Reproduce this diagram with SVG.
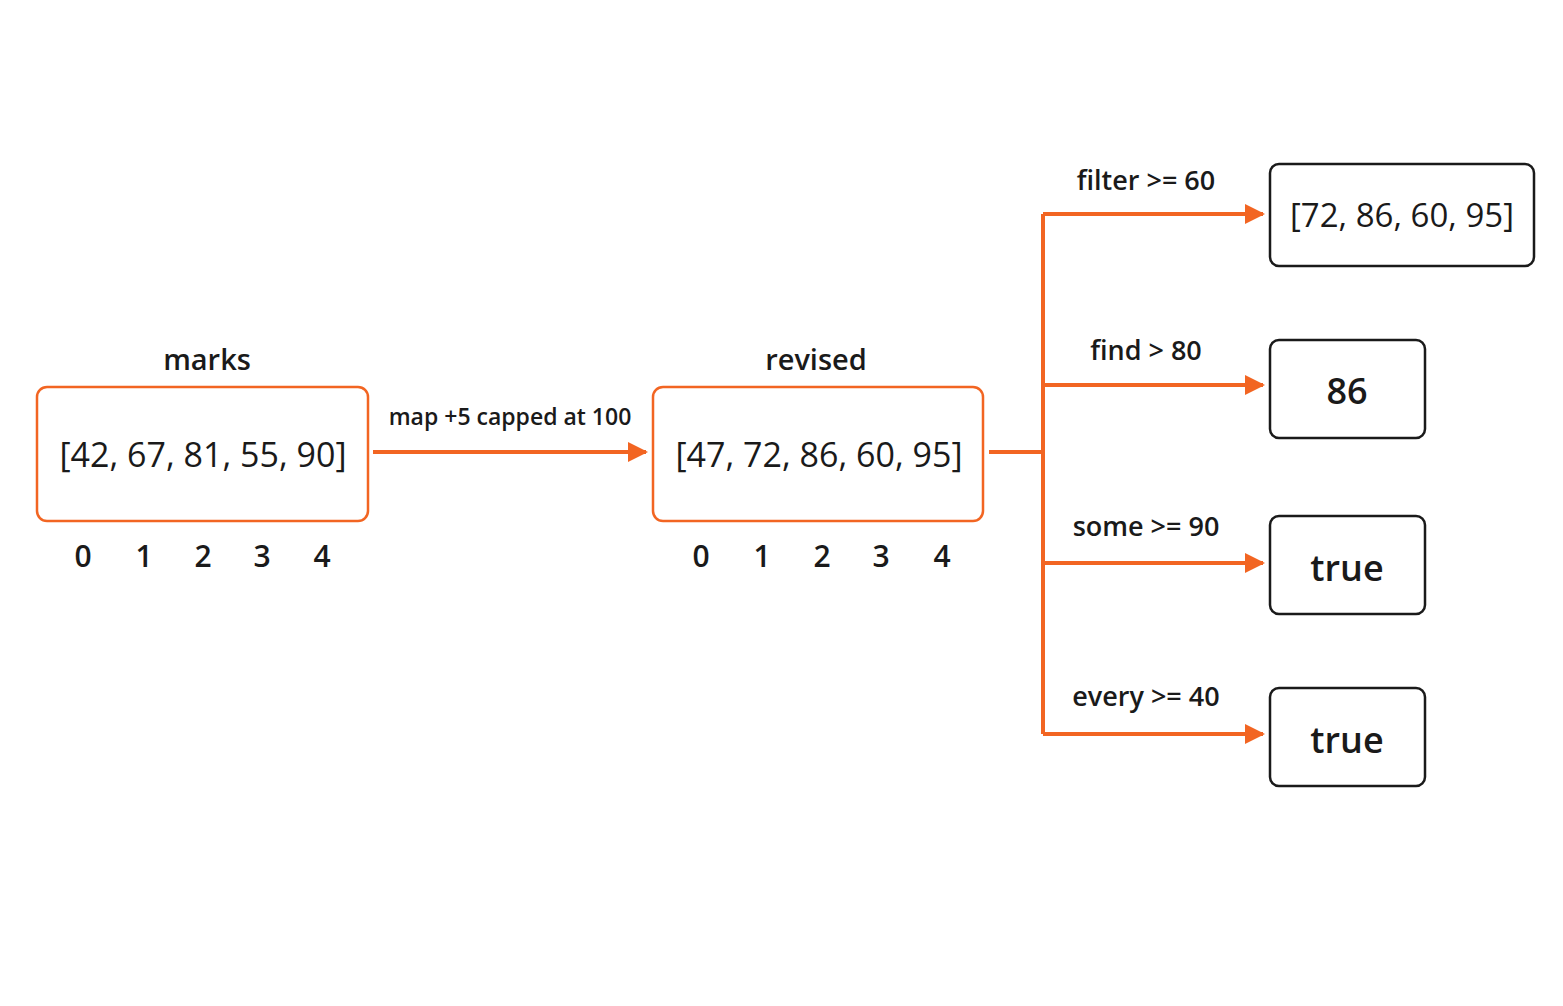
<svg xmlns="http://www.w3.org/2000/svg" width="1563" height="1006" viewBox="0 0 1563 1006">
<defs>
<style>
text{font-family:"Open Sans","Liberation Sans",sans-serif;fill:#1a1a1a;text-anchor:middle}
.t{font-size:29px;font-weight:600}
.a{font-size:34px}
.i{font-size:30px;font-weight:600}
.l{font-size:27px;font-weight:600}
.r{font-size:36px;font-weight:600}
.ob{fill:#fff;stroke:#f26522;stroke-width:2.5}
.bb{fill:#fff;stroke:#1a1a1a;stroke-width:2.5}
.c{fill:none;stroke:#f26522;stroke-width:4}
</style>
<marker id="ah" viewBox="0 0 10 10" refX="9" refY="5" markerWidth="5" markerHeight="5" orient="auto" markerUnits="strokeWidth"><path d="M0,0L10,5L0,10z" fill="#f26522"/></marker>
</defs>
<rect width="1563" height="1006" fill="#fff"/>
<g id="connectors">
<line class="c" x1="373" y1="452" x2="646" y2="452" marker-end="url(#ah)"/>
<text class="l" x="510" y="425" style="font-size:23px">map +5 capped at 100</text>
<path class="c" d="M989,452H1043M1043,214V734"/>
<line class="c" x1="1043" y1="214" x2="1263" y2="214" marker-end="url(#ah)"/>
<line class="c" x1="1043" y1="385" x2="1263" y2="385" marker-end="url(#ah)"/>
<line class="c" x1="1043" y1="563" x2="1263" y2="563" marker-end="url(#ah)"/>
<line class="c" x1="1043" y1="734" x2="1263" y2="734" marker-end="url(#ah)"/>
<text class="l" x="1146" y="190">filter &gt;= 60</text>
<text class="l" x="1146" y="360">find &gt; 80</text>
<text class="l" x="1146" y="536">some &gt;= 90</text>
<text class="l" x="1146" y="706">every &gt;= 40</text>
</g>
<g id="marks">
<text class="t" x="207" y="370">marks</text>
<rect class="ob" x="37" y="387" width="331" height="134" rx="10"/>
<text class="a" x="203" y="467">[42, 67, 81, 55, 90]</text>
<text class="i" x="83" y="567">0</text><text class="i" x="144" y="567">1</text><text class="i" x="203" y="567">2</text><text class="i" x="262" y="567">3</text><text class="i" x="322" y="567">4</text>
</g>
<g id="revised">
<text class="t" x="816" y="370">revised</text>
<rect class="ob" x="653" y="387" width="330" height="134" rx="10"/>
<text class="a" x="819" y="467">[47, 72, 86, 60, 95]</text>
<text class="i" x="701" y="567">0</text><text class="i" x="762" y="567">1</text><text class="i" x="822" y="567">2</text><text class="i" x="881" y="567">3</text><text class="i" x="942" y="567">4</text>
</g>
<g id="filter"><rect class="bb" x="1270" y="164" width="264" height="102" rx="9"/><text class="a" x="1402" y="227" style="font-size:33px">[72, 86, 60, 95]</text></g>
<g id="find"><rect class="bb" x="1270" y="340" width="155" height="98" rx="9"/><text class="r" x="1347" y="404">86</text></g>
<g id="some"><rect class="bb" x="1270" y="516" width="155" height="98" rx="9"/><text class="r" x="1347" y="581">true</text></g>
<g id="every"><rect class="bb" x="1270" y="688" width="155" height="98" rx="9"/><text class="r" x="1347" y="753">true</text></g>
</svg>
